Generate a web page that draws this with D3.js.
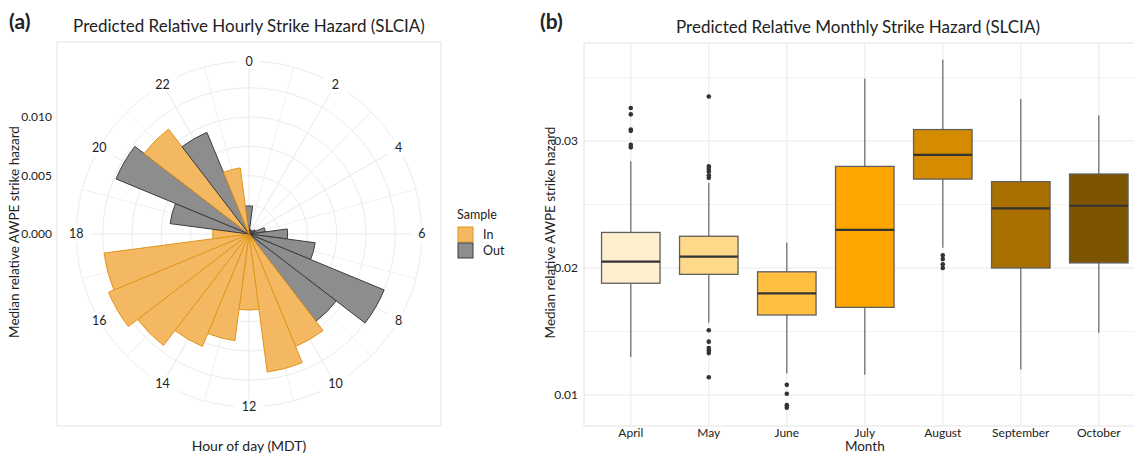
<!DOCTYPE html>
<html>
<head>
<meta charset="utf-8">
<script src="https://cdn.jsdelivr.net/npm/d3@7"></script>
<style>
  body { margin: 0; background: #fff; }
  svg text { font-family: Lato, "Open Sans", sans-serif; fill: #222; }
</style>
</head>
<body>
<svg id="chart" width="1134" height="454"></svg>
<script>
// ---- Panel (a): hourly hazard, polar bars ----
const hours = [0, 1, 2, 3, 4, 5, 6, 7, 8, 9, 10, 11, 12, 13, 14, 15, 16, 17, 18, 19, 20, 21, 22, 23];
const hourlyHazard = [0.0024, 0.0004, 0.0003, 0.0004, 0.0006, 0.0014, 0.0033, 0.0057, 0.0125, 0.0094,
                      0.0104, 0.0119, 0.0065, 0.0092, 0.0104, 0.0120, 0.0130, 0.0125, 0.0031, 0.0068,
                      0.0123, 0.0113, 0.0094, 0.0057];
const hourlySample = ["Out", "Out", "Out", "Out", "Out", "Out", "Out", "Out", "Out", "Out",
                      "In", "In", "In", "In", "In", "In", "In", "In", "In", "Out",
                      "Out", "In", "Out", "In"];
const hourTicks = [0, 2, 4, 6, 8, 10, 12, 14, 16, 18, 20, 22];
const radialTicks = [0.000, 0.005, 0.010];
const radialGrid = [0.0025, 0.005, 0.0075, 0.010, 0.0125];
const sampleGroups = ["In", "Out"];

// ---- Panel (b): monthly hazard, box plots ----
const months = ["April", "May", "June", "July", "August", "September", "October"];
const whiskerLow  = [0.0130, 0.0157, 0.0117, 0.0116, 0.0216, 0.0120, 0.0149];
const q1          = [0.0188, 0.0195, 0.0163, 0.0169, 0.0270, 0.0200, 0.0204];
const medians     = [0.0205, 0.0209, 0.0180, 0.0230, 0.0289, 0.0247, 0.0249];
const q3          = [0.0228, 0.0225, 0.0197, 0.0280, 0.0309, 0.0268, 0.0274];
const whiskerHigh = [0.0284, 0.0267, 0.0220, 0.0349, 0.0364, 0.0333, 0.0320];
const outliers = [
  [0.0326, 0.0321, 0.0309, 0.0308, 0.0297, 0.0295],
  [0.0335, 0.0280, 0.0278, 0.0276, 0.0273, 0.0271, 0.0151, 0.0142, 0.0137, 0.0135, 0.0133, 0.0114],
  [0.0108, 0.0101, 0.0092, 0.0090],
  [],
  [0.0210, 0.0207, 0.0203, 0.0200],
  [],
  []
];
const monthTicks = [0.01, 0.02, 0.03];
const monthMinor = [0.015, 0.025, 0.035];
const monthFill = ["#FFEFCF", "#FFD98A", "#FFBF41", "#FFA500", "#D48B00", "#A97000", "#7D5400"];

const svg = d3.select("#chart");

// ================= Panel (a) =================
const pa = { x: 57, y: 42, w: 384, h: 384 };
const cx = pa.x + pa.w / 2, cy = pa.y + pa.h / 2;
const rOuter = 0.45 * pa.w;

const theta = d3.scaleLinear().domain([0, 24]).range([0, 2 * Math.PI]);
const r = d3.scaleLinear().domain([0, 0.4 * pa.w / 11700]).range([0, 0.4 * pa.w]);
const fillA = d3.scaleOrdinal().domain(sampleGroups).range(["#F5B862", "#8D8D8D"]);
const strokeA = d3.scaleOrdinal().domain(sampleGroups).range(["#E0961C", "#3C3C3C"]);

svg.append("rect").attr("x", pa.x).attr("y", pa.y).attr("width", pa.w).attr("height", pa.h)
  .attr("fill", "#fff").attr("stroke", "#e3e3e3").attr("stroke-width", 1);

const gA = svg.append("g").attr("transform", `translate(${cx},${cy})`);

// radial grid circles
gA.selectAll("circle.grid").data(radialGrid.map(v => r(v)).concat([rOuter]))
  .join("circle").attr("class", "grid")
  .attr("r", d => d).attr("fill", "none").attr("stroke", "#ececec").attr("stroke-width", 1);

// angular spokes, one per hour
gA.selectAll("line.spoke").data(hours).join("line").attr("class", "spoke")
  .attr("x1", 0).attr("y1", 0)
  .attr("x2", h => rOuter * Math.sin(theta(h)))
  .attr("y2", h => -rOuter * Math.cos(theta(h)))
  .attr("stroke", h => h % 2 === 0 ? "#e8e8e8" : "#f0f0f0").attr("stroke-width", 1);

// bars
const arc = d3.arc().innerRadius(0);
gA.selectAll("path.bar").data(hours).join("path").attr("class", "bar")
  .attr("d", (h, i) => arc({ startAngle: theta(h - 0.5), endAngle: theta(h + 0.5), outerRadius: r(hourlyHazard[i]) }))
  .attr("fill", (h, i) => fillA(hourlySample[i]))
  .attr("stroke", (h, i) => strokeA(hourlySample[i]))
  .attr("stroke-width", 1).attr("stroke-linejoin", "miter");

// hour labels on the outer ring
const hourLab = gA.selectAll("g.hlab").data(hourTicks).join("g").attr("class", "hlab")
  .attr("transform", h => `translate(${rOuter * Math.sin(theta(h))},${-rOuter * Math.cos(theta(h))})`);
hourLab.append("rect").attr("x", h => h >= 10 ? -15 : -11).attr("y", -8)
  .attr("width", h => h >= 10 ? 30 : 22).attr("height", 16).attr("fill", "#fff");
hourLab.append("text").attr("text-anchor", "middle").attr("dy", "0.35em")
  .style("font-size", "12.5px").text(h => h);

// radial axis labels
svg.selectAll("text.rlab").data(radialTicks).join("text").attr("class", "rlab")
  .attr("x", 52).attr("y", v => cy - r(v)).attr("dy", "0.35em").attr("text-anchor", "end")
  .style("font-size", "12px").text(v => v.toFixed(3));

svg.append("text").attr("transform", `translate(14,${cy - 2}) rotate(-90)`)
  .attr("text-anchor", "middle").attr("dy", "0.35em").style("font-size", "13.5px")
  .text("Median relative AWPE strike hazard");
svg.append("text").attr("x", cx).attr("y", 451).attr("text-anchor", "middle")
  .style("font-size", "14px").text("Hour of day (MDT)");
svg.append("text").attr("x", cx).attr("y", 32).attr("text-anchor", "middle")
  .style("font-size", "17px").text("Predicted Relative Hourly Strike Hazard (SLCIA)");
svg.append("text").attr("x", 9).attr("y", 29).style("font-size", "21px").style("font-weight", "bold")
  .text("(a)");

// legend
const leg = svg.append("g").attr("transform", "translate(458,0)");
leg.append("text").attr("x", -1).attr("y", 219).style("font-size", "12.5px").text("Sample");
leg.selectAll("rect").data(sampleGroups).join("rect")
  .attr("x", 0).attr("y", (d, i) => 227 + i * 16).attr("width", 15).attr("height", 15)
  .attr("fill", d => fillA(d)).attr("stroke", d => strokeA(d)).attr("stroke-width", 1);
leg.selectAll("text.li").data(sampleGroups).join("text").attr("class", "li")
  .attr("x", 25).attr("y", (d, i) => 235 + i * 16).attr("dy", "0.35em")
  .style("font-size", "12.5px").text(d => d);

// ================= Panel (b) =================
const pb = { x: 584, y: 43, w: 561.6, h: 383 };
const x = d3.scalePoint().domain(months).range([pb.x, pb.x + pb.w]).padding(0.6);
const y = d3.scaleLinear().domain([0.02 - (426 - 268) / 12700, 0.02 + (268 - 43) / 12700]).range([pb.y + pb.h, pb.y]);
const boxW = 0.75 * x.step();

svg.append("rect").attr("x", pb.x).attr("y", pb.y).attr("width", pb.w).attr("height", pb.h)
  .attr("fill", "#fff").attr("stroke", "#e3e3e3");

const gB = svg.append("g");
gB.selectAll("line.minor").data(monthMinor).join("line").attr("class", "minor")
  .attr("x1", pb.x).attr("x2", pb.x + pb.w).attr("y1", d => y(d)).attr("y2", d => y(d))
  .attr("stroke", "#f3f3f3").attr("stroke-width", 1);
gB.selectAll("line.major").data(monthTicks).join("line").attr("class", "major")
  .attr("x1", pb.x).attr("x2", pb.x + pb.w).attr("y1", d => y(d)).attr("y2", d => y(d))
  .attr("stroke", "#e9e9e9").attr("stroke-width", 1);
gB.selectAll("line.vgrid").data(months).join("line").attr("class", "vgrid")
  .attr("x1", d => x(d)).attr("x2", d => x(d)).attr("y1", pb.y).attr("y2", pb.y + pb.h)
  .attr("stroke", "#e9e9e9").attr("stroke-width", 1);

const box = gB.selectAll("g.box").data(months).join("g").attr("class", "box");
box.append("line")
  .attr("x1", d => x(d)).attr("x2", d => x(d))
  .attr("y1", (d, i) => y(whiskerHigh[i])).attr("y2", (d, i) => y(whiskerLow[i]))
  .attr("stroke", "#707070").attr("stroke-width", 1.3);
box.append("rect")
  .attr("x", d => x(d) - boxW / 2).attr("width", boxW)
  .attr("y", (d, i) => y(q3[i])).attr("height", (d, i) => y(q1[i]) - y(q3[i]))
  .attr("fill", (d, i) => monthFill[i]).attr("stroke", "#5f5f5f").attr("stroke-width", 1.3);
box.append("line")
  .attr("x1", d => x(d) - boxW / 2).attr("x2", d => x(d) + boxW / 2)
  .attr("y1", (d, i) => y(medians[i])).attr("y2", (d, i) => y(medians[i]))
  .attr("stroke", "#333").attr("stroke-width", 2.2);
box.each(function (d, i) {
  d3.select(this).selectAll("circle").data(outliers[i]).join("circle")
    .attr("cx", x(d)).attr("cy", v => y(v)).attr("r", 2.3).attr("fill", "#333");
});

// axes (text only)
svg.selectAll("text.ylab").data(monthTicks).join("text").attr("class", "ylab")
  .attr("x", 578).attr("y", d => y(d)).attr("dy", "0.35em").attr("text-anchor", "end")
  .style("font-size", "12px").text(d => d3.format(".2f")(d));
svg.selectAll("text.xlab").data(months).join("text").attr("class", "xlab")
  .attr("x", d => x(d)).attr("y", 437).attr("text-anchor", "middle")
  .style("font-size", "12px").text(d => d);

svg.append("text").attr("transform", `translate(550,${(pb.y + pb.y + pb.h) / 2 - 2}) rotate(-90)`)
  .attr("text-anchor", "middle").attr("dy", "0.35em").style("font-size", "13.5px")
  .text("Median relative AWPE strike hazard");
svg.append("text").attr("x", pb.x + pb.w / 2).attr("y", 451).attr("text-anchor", "middle")
  .style("font-size", "13.5px").text("Month");
svg.append("text").attr("x", 858).attr("y", 33).attr("text-anchor", "middle")
  .style("font-size", "17px").text("Predicted Relative Monthly Strike Hazard (SLCIA)");
svg.append("text").attr("x", 540).attr("y", 29).style("font-size", "21px").style("font-weight", "bold")
  .text("(b)");
</script>
</body>
</html>
